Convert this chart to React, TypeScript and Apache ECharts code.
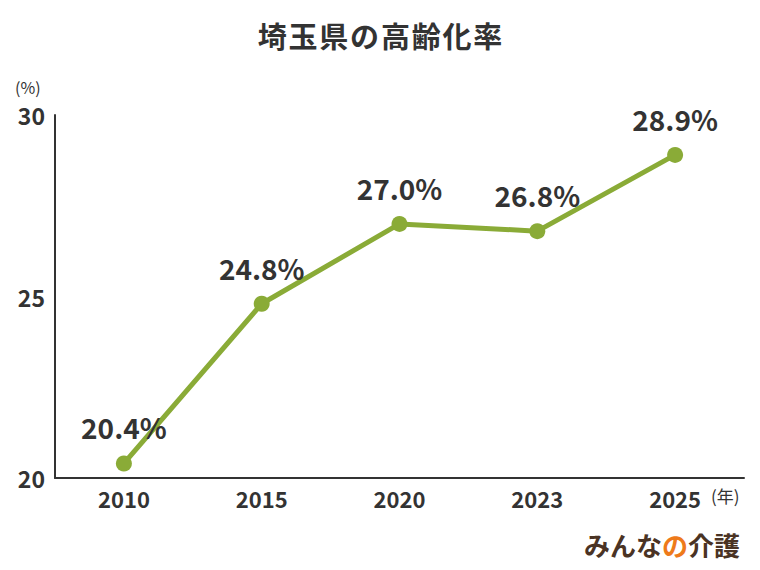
import React, { useEffect, useRef } from "react";
import * as echarts from "echarts";

const TITLE = "埼玉県の高齢化率";
const categories = ["2010", "2015", "2020", "2023", "2025"];
const values = [20.4, 24.8, 27.0, 26.8, 28.9];
const yTicks = { min: 20, max: 30, interval: 5 };
const yUnit = "(%)";
const xUnit = "(年)";
const logoA = "みんな";
const logoB = "の";
const logoC = "介護";

const FONT = "'Noto Sans CJK JP', 'Noto Sans', sans-serif";

export default function App() {
  const ref = useRef<HTMLDivElement>(null);
  useEffect(() => {
    if (!ref.current) return;
    const chart = echarts.init(ref.current, undefined, { renderer: "svg" });
    chart.setOption({
      animation: false,
      backgroundColor: "#ffffff",
      textStyle: { fontFamily: FONT },
      graphic: [
        {
          type: "text",
          left: "center",
          top: 20,
          style: {
            text: TITLE.split("").join("\u200a"),
            fontFamily: FONT,
            fontSize: 29,
            fontWeight: "bold",
            fill: "#333333",
          },
        },
        {
          type: "text",
          left: 15,
          top: 79,
          style: { text: yUnit, fontFamily: FONT, fontSize: 16, fill: "#333333" },
        },
        {
          type: "text",
          left: 711,
          top: 487,
          style: { text: xUnit, fontFamily: FONT, fontSize: 17, fill: "#333333" },
        },
        {
          type: "text",
          left: 584,
          top: 531,
          style: {
            text: `{a|${logoA}}{b|${logoB}}{a|${logoC}}`,
            rich: {
              a: { fontFamily: FONT, fontSize: 26, fontWeight: "bold", fill: "#4a3324" },
              b: { fontFamily: FONT, fontSize: 26, fontWeight: "bold", fill: "#ee7a1a" },
            },
          },
        },
      ],
      grid: { left: 55, right: 16, top: 115, bottom: 92, containLabel: false },
      xAxis: {
        type: "category",
        data: categories,
        axisLine: { lineStyle: { color: "#333333", width: 2 } },
        axisTick: { show: false },
        axisLabel: { fontFamily: FONT, fontSize: 22, fontWeight: "bold", color: "#333333", margin: 9 },
      },
      yAxis: {
        type: "value",
        min: yTicks.min,
        max: yTicks.max,
        interval: yTicks.interval,
        splitLine: { show: false },
        axisLine: { show: true, lineStyle: { color: "#333333", width: 2 } },
        axisTick: { show: false },
        axisLabel: { fontFamily: FONT, fontSize: 23, fontWeight: "bold", color: "#333333", margin: 10 },
      },
      series: [
        {
          type: "line",
          data: values,
          symbol: "circle",
          symbolSize: 16,
          lineStyle: { color: "#8aab37", width: 5 },
          itemStyle: { color: "#8aab37" },
          label: {
            show: true,
            position: "top",
            distance: 14,
            formatter: (p: any) => `${p.value.toFixed(1)}%`,
            fontFamily: FONT,
            fontSize: 28,
            fontWeight: "bold",
            color: "#333333",
          },
        },
      ],
    });
    return () => chart.dispose();
  }, []);
  return (
    <div
      ref={ref}
      style={{ position: "fixed", left: 0, top: 0, width: 760, height: 570 }}
    />
  );
}
